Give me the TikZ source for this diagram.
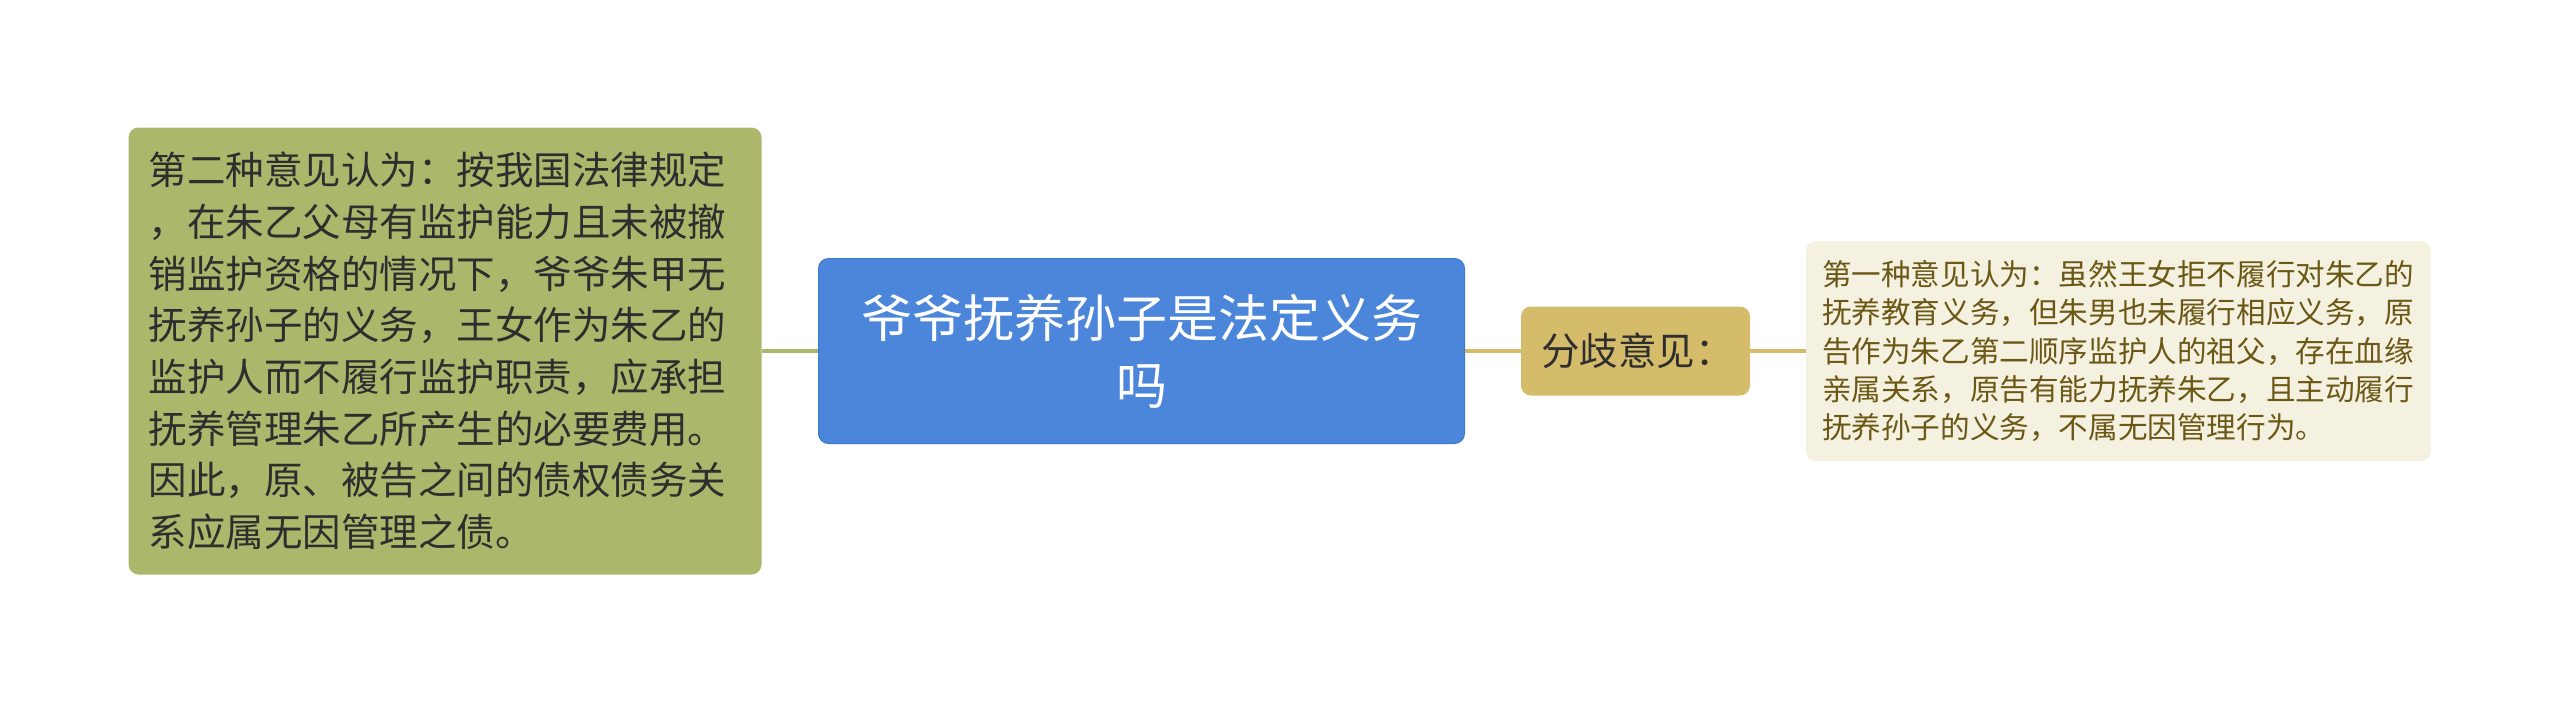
\documentclass[tikz,border=0pt]{standalone}
\usepackage{fontspec}
\setmainfont{Noto Sans CJK SC}
\newfontfamily\cjk{Noto Sans CJK SC}
\definecolor{leftfill}{HTML}{ADB76C}
\definecolor{darktext}{HTML}{2E2E2E}
\definecolor{titlefill}{HTML}{4B86DA}
\definecolor{titledraw}{HTML}{4079CC}
\definecolor{fenfill}{HTML}{D4BC6B}
\definecolor{rightfill}{HTML}{F5F1E1}
\definecolor{righttext}{HTML}{6B5815}
\tikzset{
  box/.style={rectangle, rounded corners=5pt, inner ysep=0pt, anchor=center},
  leftbox/.style={box, fill=leftfill, text=darktext, align=left,
    inner xsep=10pt, text width=296.5pt, minimum height=223.5pt,
    font=\cjk\fontsize{19.25pt}{25.85pt}\selectfont},
  titlebox/.style={box, fill=titlefill, draw=titledraw, line width=0.5pt, text=white, align=center,
    inner xsep=10pt, text width=303pt, minimum height=92.5pt,
    font=\cjk\fontsize{25.5pt}{33.5pt}\selectfont},
  fenbox/.style={box, fill=fenfill, text=darktext, align=left,
    inner xsep=10pt, text width=94.5pt, minimum height=44.5pt,
    font=\cjk\fontsize{19.25pt}{25.85pt}\selectfont},
  rightbox/.style={box, fill=rightfill, text=righttext, align=left,
    inner xsep=8pt, text width=296.5pt, minimum height=110pt,
    font=\cjk\fontsize{14.8pt}{19.15pt}\selectfont},
  conleft/.style={draw=leftfill, line width=2pt},
  conright/.style={draw=fenfill, line width=2pt}
}
\begin{document}
\begin{tikzpicture}[x=0.5pt, y=-0.5pt]
\useasboundingbox (0,0) rectangle (2560,703);
\fill[white] (0,0) rectangle (2560,703);
\node[leftbox] (left) at (445,351) {第二种意见认为：按我国法律规定\\，在朱乙父母有监护能力且未被撤\\销监护资格的情况下，爷爷朱甲无\\抚养孙子的义务，王女作为朱乙的\\监护人而不履行监护职责，应承担\\抚养管理朱乙所产生的必要费用。\\因此，原、被告之间的债权债务关\\系应属无因管理之债。};
\node[titlebox] (title) at (1141.5,351) {爷爷抚养孙子是法定义务\\吗};
\node[fenbox] (fen) at (1635.5,351) {分歧意见：};
\node[rightbox] (right) at (2118.5,351) {第一种意见认为：虽然王女拒不履行对朱乙的\\抚养教育义务，但朱男也未履行相应义务，原\\告作为朱乙第二顺序监护人的祖父，存在血缘\\亲属关系，原告有能力抚养朱乙，且主动履行\\抚养孙子的义务，不属无因管理行为。};
\draw[conleft] (left.east) -- (title.west);
\draw[conright] (title.east) -- (fen.west);
\draw[conright] (fen.east) -- (right.west);
\end{tikzpicture}
\end{document}
